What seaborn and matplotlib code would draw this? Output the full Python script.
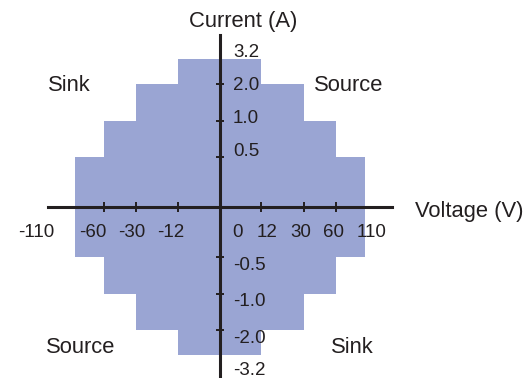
import matplotlib
matplotlib.use("Agg")
import matplotlib.pyplot as plt
import numpy as np
import seaborn as sns

# operating envelope: each voltage limit pairs with a current limit
voltage_limits = [12, 30, 60, 110]
current_limits = [3.2, 2.0, 1.0, 0.5]

x_tick_values = [-60, -30, -12, 12, 30, 60]
x_label_values = [-110, -60, -30, -12, 0, 12, 30, 60, 110]
x_labels = ["-110", "-60", "-30", "-12", "0", "12", "30", "60", "110"]

y_tick_values = [2.0, 1.0, 0.5, -0.5, -1.0, -2.0]
y_label_values = [3.2, 2.0, 1.0, 0.5, -0.5, -1.0, -2.0, -3.2]
y_labels = ["3.2", "2.0", "1.0", "0.5", "-0.5", "-1.0", "-2.0", "-3.2"]

quadrants = [("Sink", 69.5, 90.7), ("Source", 348.5, 90.7),
             ("Source", 81, 353.3), ("Sink", 352, 353.3)]

# layout: the axes are not linear, so use a piecewise scale (value -> pixels)
X_KNOT_VAL = [0, 12, 30, 60, 110, 175]
X_KNOT_PX = [0, 41.5, 84, 116, 145, 172]
Y_KNOT_VAL = [0, 0.5, 1.0, 2.0, 3.2, 4.2]
Y_KNOT_PX = [0, 50, 86.6, 123, 148, 172]

# small per-label nudges (pixels) to sit labels where the original puts them
X_LABEL_DX = [-39, -10.8, -4.3, -7.8, 17.5, 5.8, -3.5, -2, 7]
Y_LABEL_DY = [2.7, -5.7, -2.3, 1.6, -12.4, -11.7, -12.3, -19.5]

FILL = "#9aa5d3"
INK = "#231f20"
W, H = 531, 378


def make_scale(knot_val, knot_px):
    kv = np.asarray(knot_val, float)
    kp = np.asarray(knot_px, float)

    def forward(v):
        v = np.asarray(v, float)
        return np.sign(v) * np.interp(np.abs(v), kv, kp)

    def inverse(p):
        p = np.asarray(p, float)
        return np.sign(p) * np.interp(np.abs(p), kp, kv)

    return forward, inverse


sns.set_style("white")
plt.rcParams["font.family"] = ["Liberation Sans", "DejaVu Sans"]

fig = plt.figure(figsize=(W / 100, H / 100), dpi=100)
ax = fig.add_axes([48 / W, (378 - 379.3) / H, 344 / W, 344 / H])
ax.set_xscale("function", functions=make_scale(X_KNOT_VAL, X_KNOT_PX))
ax.set_yscale("function", functions=make_scale(Y_KNOT_VAL, Y_KNOT_PX))
ax.set_xlim(-X_KNOT_VAL[-1], X_KNOT_VAL[-1])
ax.set_ylim(-Y_KNOT_VAL[-1], Y_KNOT_VAL[-1])
ax.patch.set_alpha(0)
ax.set_axisbelow(False)  # ticks sit inside the filled area, keep them on top

# stepped envelope, symmetric about both axes
edges = [-v for v in voltage_limits[::-1]] + voltage_limits
heights = current_limits[::-1] + current_limits[1:]
heights = np.array(heights + [heights[-1]])
ax.fill_between(edges, -heights, heights, step="post", color=FILL, lw=0)

for side in ["top", "right"]:
    ax.spines[side].set_visible(False)
ax.spines["left"].set_position(("data", 0))
ax.spines["bottom"].set_position(("data", 0))
for side in ["left", "bottom"]:
    ax.spines[side].set_color(INK)
    ax.spines[side].set_linewidth(2.2)
    ax.spines[side].set_zorder(3)

ax.set_xticks(x_tick_values)
ax.set_yticks(y_tick_values)
ax.xaxis.set_minor_locator(matplotlib.ticker.NullLocator())
ax.yaxis.set_minor_locator(matplotlib.ticker.NullLocator())
ax.tick_params(axis="x", bottom=True, direction="inout", length=7.5, width=1.4,
               color=INK, labelbottom=False)
ax.tick_params(axis="y", left=True, direction="inout", length=6, width=1.4,
               color=INK, labelleft=False)

for v, lbl, dx in zip(x_label_values, x_labels, X_LABEL_DX):
    ax.annotate(lbl, xy=(v, 0), xytext=(dx, -29.4), textcoords="offset pixels",
                ha="center", va="baseline", fontsize=13.5, color=INK)

for v, lbl, dy in zip(y_label_values, y_labels, Y_LABEL_DY):
    ax.annotate(lbl, xy=(0, v), xytext=(13, dy), textcoords="offset pixels",
                ha="left", va="baseline", fontsize=13.5, color=INK)

fig.text(243 / W, 1 - 27.3 / H, "Current (A)", ha="center", va="baseline",
         fontsize=15.8, color=INK)
fig.text(415 / W, 1 - 216.7 / H, "Voltage (V)", ha="left", va="baseline",
         fontsize=15.8, color=INK)
for name, px, py in quadrants:
    fig.text(px / W, 1 - py / H, name, ha="center", va="baseline",
             fontsize=15.8, color=INK)

fig.savefig("out.png", dpi=100)
